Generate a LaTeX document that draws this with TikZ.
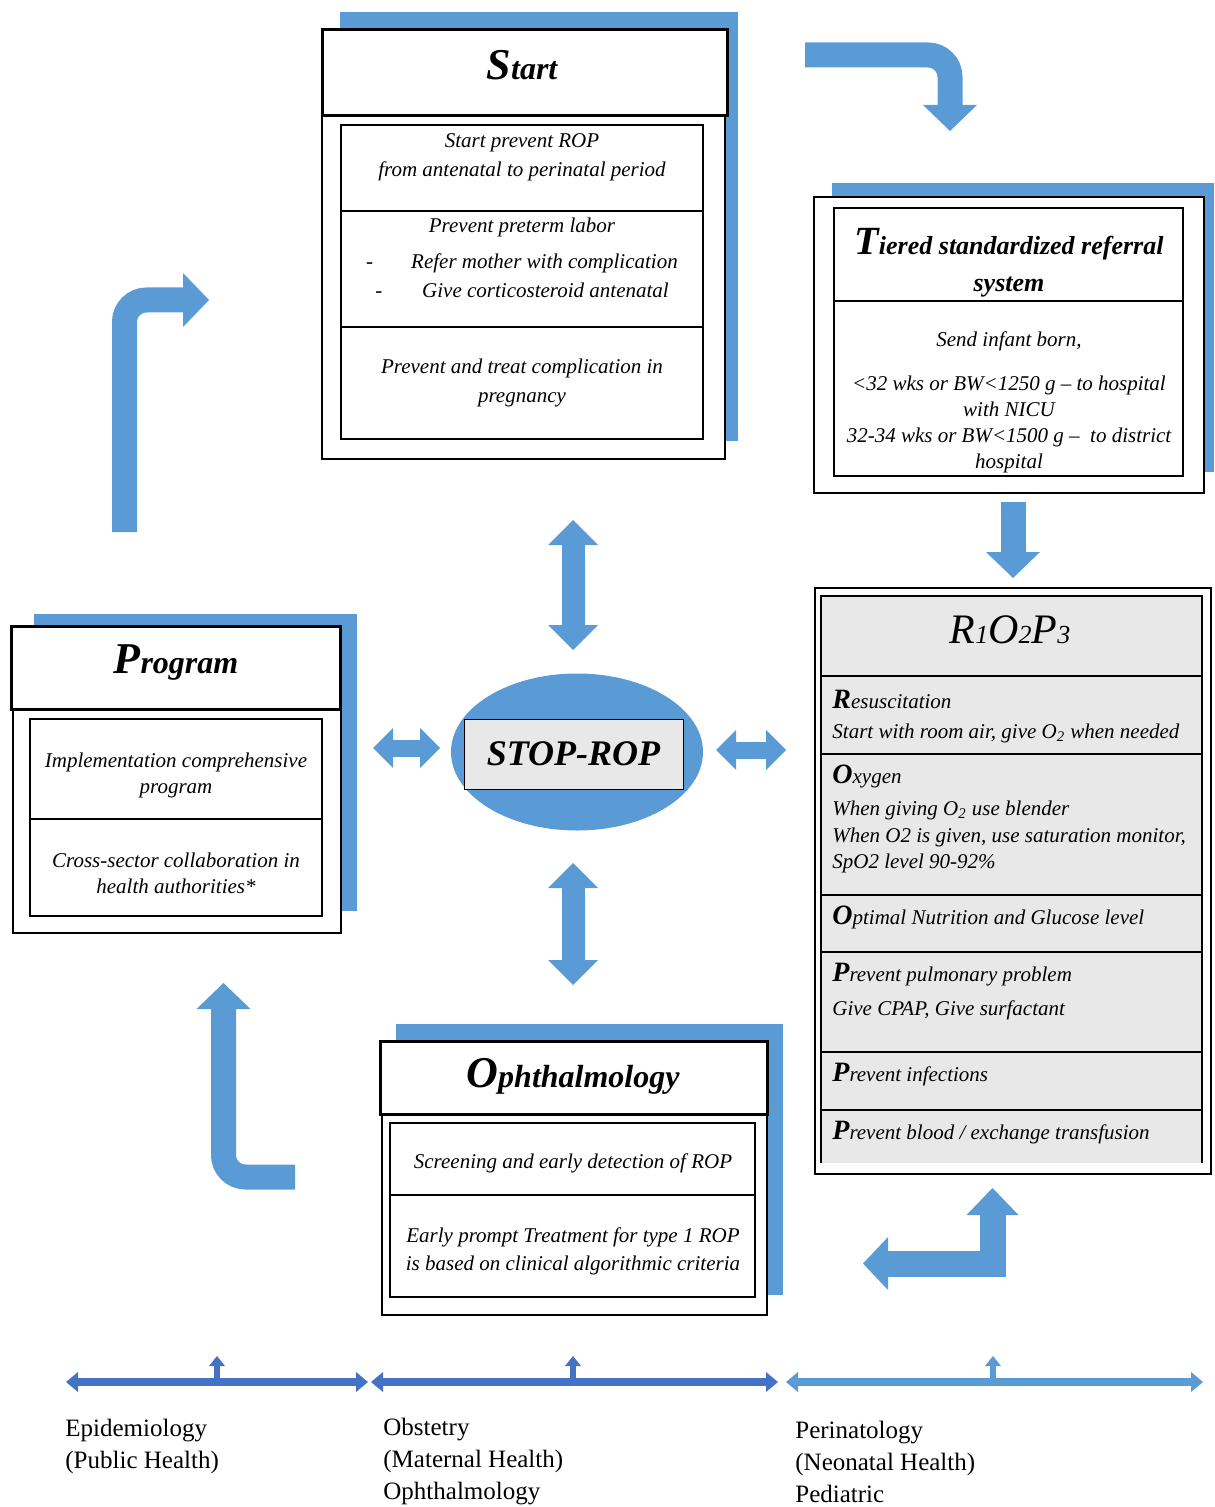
\documentclass[tikz,border=0pt]{standalone}
\usepackage{fontspec}
\setmainfont{Liberation Serif}
\usetikzlibrary{arrows.meta,shapes.geometric,positioning}

\definecolor{ropblue}{RGB}{91,155,213}
\definecolor{ropdark}{RGB}{68,114,196}
\definecolor{ropgray}{RGB}{232,232,232}

\newcommand{\bigfirst}[2]{{\fontsize{#1}{#1}\selectfont #2}}
\newcommand{\sechead}[2]{{\fontsize{14}{14}\selectfont\bfseries #1}#2}
\newcommand{\lowdigit}[1]{{\fontsize{13}{13}\selectfont #1}}

\begin{document}
\begin{tikzpicture}[x=0.5pt, y=-0.5pt]
    % Define styles
    \tikzset{
        backpanel/.style={fill=ropblue},
        outerframe/.style={draw, fill=white, line width=1pt},
        headframe/.style={draw, fill=white, line width=1.5pt},
        cellframe/.style={draw, line width=0.8pt},
        titletext/.style={font=\fontsize{16}{19}\selectfont\bfseries\itshape, align=center, inner sep=0pt},
        bodytext/.style={font=\fontsize{10.5}{14.5}\selectfont\itshape, align=center, inner sep=0pt},
        listtext/.style={font=\fontsize{10.5}{13.3}\selectfont\itshape, align=left, anchor=west, inner sep=0pt},
        areatext/.style={font=\fontsize{12.5}{16}\selectfont, align=left, anchor=west, inner sep=0pt},
        fatboth/.style={ropblue, line width=11.5pt,
            {Triangle[width=25pt,length=12.5pt,line width=0pt]}-{Triangle[width=25pt,length=12.5pt,line width=0pt]}},
        slimboth/.style={ropblue, line width=8.5pt,
            {Triangle[width=20pt,length=10pt,line width=0pt]}-{Triangle[width=20pt,length=10pt,line width=0pt]}},
        bentarrow/.style={ropblue, line width=12.5pt, rounded corners=11pt,
            -{Triangle[width=27pt,length=13pt,line width=0pt]}},
        axisarrow/.style={line width=4pt,
            {Triangle[width=10pt,length=6pt,line width=0pt]}-{Triangle[width=10pt,length=6pt,line width=0pt]}},
        uparrow/.style={line width=3pt, -{Triangle[width=8pt,length=5pt,line width=0pt]}}
    }

    \useasboundingbox (0,0) rectangle (1214,1507);

    % Start block
    \fill[backpanel] (340,12) rectangle (738,441);
    \draw[outerframe] (322,116) rectangle (725,459);
    \draw[headframe] (322,30) rectangle (727,116);
    \draw[cellframe] (341,125) rectangle (703,439);
    \draw[cellframe] (341,211) -- (703,211) (341,327) -- (703,327);
    \node[titletext] (start) at (522,65) {\bigfirst{22}{S}tart};
    \node[bodytext] (start-a) at (522,157) {Start prevent ROP\\from antenatal to perinatal period};
    \node[bodytext] (start-b) at (522,258) {Prevent preterm labor\\[3.5pt]-\hspace{19pt}Refer mother with complication\\-\hspace{20pt}Give corticosteroid antenatal};
    \node[bodytext] (start-c) at (522,383) {Prevent and treat complication in\\pregnancy};

    % Referral block
    \fill[backpanel] (832,183) rectangle (1214,472);
    \draw[outerframe] (814,197) rectangle (1204,493);
    \draw[cellframe] (834,208) rectangle (1183,476);
    \draw[cellframe] (834,301) -- (1183,301);
    \node[titletext, font=\fontsize{13}{18.5}\selectfont\bfseries\itshape] (tiered) at (1009,263) {\bigfirst{20}{T}iered standardized referral\\system};
    \node[bodytext, font=\fontsize{10.5}{13}\selectfont\itshape] (tiered-a) at (1009,402) {Send infant born,\\[9pt]<32 wks or BW<1250 g – to hospital\\with NICU\\32-34 wks or BW<1500 g –\ \ to district\\hospital};

    % Turning arrows round the cycle
    \coordinate (turn-a) at (805,55);
    \coordinate (turn-b) at (950,131);
    \draw[bentarrow] (turn-a) -| (turn-b);
    \coordinate (drop-a) at (1013,502);
    \coordinate (drop-b) at (1013,578);
    \draw[bentarrow] (drop-a) -- (drop-b);
    \coordinate (loop-a) at (124.5,532);
    \coordinate (loop-b) at (209,300);
    \draw[bentarrow] (loop-a) |- (loop-b);
    \coordinate (loop-c) at (295,1177);
    \coordinate (loop-d) at (223.5,983);
    \draw[bentarrow] (loop-c) -| (loop-d);
    \coordinate (back-a) at (863,1263.5);
    \coordinate (back-b) at (992.5,1188);
    \draw[ropblue, line width=13pt,
        {Triangle[width=26.5pt,length=12.5pt,line width=0pt]}-{Triangle[width=26pt,length=13.5pt,line width=0pt]}]
        (back-a) -| (back-b);

    % R1O2P3 block
    \draw[outerframe] (815,588) rectangle (1211,1174);
    \fill[ropgray] (821,596) rectangle (1202,1163);
    \draw[cellframe] (821,1163) -- (821,596) -- (1202,596) -- (1202,1163);
    \foreach \y in {676,754,895,952,1052,1110}
        \draw[cellframe] (821,\y) -- (1202,\y);
    \node[font=\fontsize{21}{21}\selectfont\itshape] (rop) at (1010,630) {R\lowdigit{1}O\lowdigit{2}P\lowdigit{3}};
    \node[listtext] (resus) at (832,699) {\sechead{R}{esuscitation}};
    \node[listtext] (resus-a) at (832,733) {Start with room air, give O\textsubscript{2} when needed};
    \node[listtext] (oxy) at (832,776) {\sechead{O}{xygen}};
    \node[listtext] (oxy-a) at (832,837) {When giving O\textsubscript{2} use blender\\When O2 is given, use saturation monitor,\\SpO2 level 90-92\%};
    \node[listtext] (nutri) at (832,917) {\sechead{O}{ptimal Nutrition and Glucose level}};
    \node[listtext] (pulmo) at (832,975) {\sechead{P}{revent pulmonary problem}};
    \node[listtext] (pulmo-a) at (832,1010) {Give CPAP, Give surfactant};
    \node[listtext] (infect) at (832,1075) {\sechead{P}{revent infections}};
    \node[listtext] (blood) at (832,1133) {\sechead{P}{revent blood / exchange transfusion}};

    % Program block
    \fill[backpanel] (34,614) rectangle (357,911);
    \draw[outerframe] (13,709) rectangle (341,933);
    \draw[headframe] (11,626) rectangle (340,709);
    \draw[cellframe] (30,719) rectangle (322,916);
    \draw[cellframe] (30,819) -- (322,819);
    \node[titletext] (program) at (176,662) {\bigfirst{22}{P}rogram};
    \node[bodytext, font=\fontsize{10.5}{13}\selectfont\itshape] (program-a) at (176,775) {Implementation comprehensive\\program};
    \node[bodytext, font=\fontsize{10.5}{13}\selectfont\itshape] (program-b) at (176,873) {Cross-sector collaboration in\\health authorities*};

    % STOP-ROP hub
    \node[ellipse, fill=ropblue, minimum width=126pt, minimum height=78.5pt] (stopring) at (577,752) {};
    \node[draw, fill=ropgray, minimum width=109.5pt, minimum height=35pt,
        font=\fontsize{18}{18}\selectfont\bfseries\itshape] (stop) at (573.5,754) {STOP-ROP};
    \coordinate (hub-n1) at (573,520);
    \coordinate (hub-n2) at (573,650);
    \draw[fatboth] (hub-n1) -- (hub-n2);
    \coordinate (hub-s1) at (573,863);
    \coordinate (hub-s2) at (573,985);
    \draw[fatboth] (hub-s1) -- (hub-s2);
    \coordinate (hub-w1) at (373,748);
    \coordinate (hub-w2) at (440,748);
    \draw[slimboth] (hub-w1) -- (hub-w2);
    \coordinate (hub-e1) at (716,750);
    \coordinate (hub-e2) at (786,750);
    \draw[slimboth] (hub-e1) -- (hub-e2);

    % Ophthalmology block
    \fill[backpanel] (396,1024) rectangle (783,1295);
    \draw[outerframe] (382,1114) rectangle (767,1315);
    \draw[headframe] (380,1041) rectangle (767,1114);
    \draw[cellframe] (390,1123) rectangle (755,1297);
    \draw[cellframe] (390,1195) -- (755,1195);
    \node[titletext] (ophth) at (573,1076) {\bigfirst{22}{O}phthalmology};
    \node[bodytext] (ophth-a) at (573,1163) {Screening and early detection of ROP};
    \node[bodytext, font=\fontsize{10.5}{14}\selectfont\itshape] (ophth-b) at (573,1251) {Early prompt Treatment for type 1 ROP\\is based on clinical algorithmic criteria};

    % Disciplines along the bottom
    \foreach \l/\r/\m/\c [count=\i] in {66/368/217/ropdark, 371/778/573/ropdark, 786/1203/993/ropblue} {
        \coordinate (ax\i-l) at (\l,1382);
        \coordinate (ax\i-r) at (\r,1382);
        \coordinate (ax\i-m) at (\m,1382);
        \coordinate (ax\i-t) at (\m,1356);
        \draw[axisarrow, \c] (ax\i-l) -- (ax\i-r);
        \draw[uparrow, \c] (ax\i-m) -- (ax\i-t);
    }
    \node[areatext] (epi) at (65,1446) {Epidemiology\\(Public Health)};
    \node[areatext] (obs) at (383,1462) {Obstetry\\(Maternal Health)\\Ophthalmology};
    \node[areatext] (peri) at (795,1462) {Perinatology\\(Neonatal Health)\\Pediatric};

\end{tikzpicture}
\end{document}
